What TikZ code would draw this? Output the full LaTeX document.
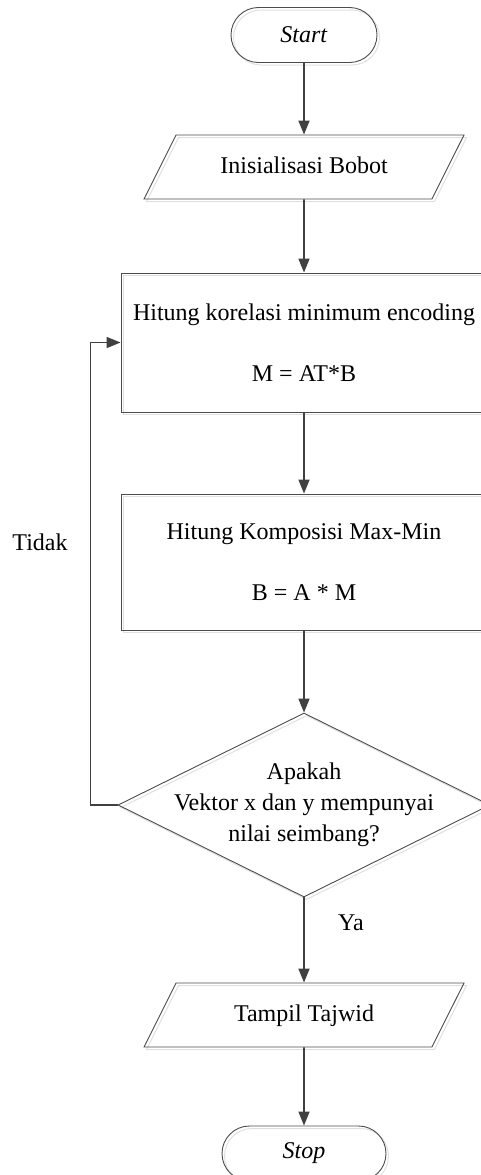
\documentclass[tikz,border=0pt]{standalone}
\usepackage{fontspec}
\setmainfont{Liberation Serif}
\usepackage{tikz}
\usetikzlibrary{shapes.geometric, arrows.meta, shadows}

\begin{document}
\begin{tikzpicture}[x=1pt, y=-1pt,
  every node/.style={font=\fontsize{24}{28}\selectfont, text=black},
  outline/.style={draw=black!70, line width=0.9pt,
    drop shadow={shadow xshift=2.5pt, shadow yshift=-2.5pt, opacity=1, fill=none, draw=black!12, line width=1pt}},
  terminal/.style={outline, rectangle, rounded corners=27.5pt, minimum height=55pt, inner sep=0pt},
  data/.style={outline, trapezium, trapezium left angle=63.4, trapezium right angle=116.6,
    trapezium stretches body, minimum width=320pt, text height=17pt, text depth=5pt,
    inner xsep=0pt, inner ysep=21pt},
  process/.style={outline, rectangle, minimum width=366pt, align=center, inner sep=0pt},
  decision/.style={outline, diamond, minimum width=372pt, minimum height=184pt, inner sep=0pt},
  flow/.style={draw=black!75, line width=1.6pt, -{Triangle[length=14pt, width=11pt]}}]
\useasboundingbox (0,0) rectangle (480,1175);

\node[terminal, minimum width=146pt] (start) at (304,35) {\textit{Start}};
\node[data] (init) at (304,167) {Inisialisasi Bobot};
\node[process, minimum height=139pt] (corr) at (304,342.5)
  {Hitung korelasi minimum encoding\\[33pt] M = AT*B};
\node[process, minimum height=136pt] (comp) at (304,562)
  {Hitung Komposisi Max-Min\\[33pt] B = A * M};
\node[decision] (check) at (304,805) {};
\node[align=center, font=\fontsize{24}{31}\selectfont] (checktxt) at (check)
  {Apakah\\Vektor x dan y mempunyai\\nilai seimbang?};
\node[data] (show) at (304,1015) {Tampil Tajwid};
\node[terminal, minimum width=164pt] (stop) at (304,1153.5) {\textit{Stop}};

\node (no) at (40,542) {Tidak};
\node (yes) at (351,923) {Ya};

\draw[flow] (start) -- (init);
\draw[flow] (init) -- (corr);
\draw[flow] (corr) -- (comp);
\draw[flow] (comp) -- (check);
\draw[flow] (check.west) -- ++(-27,0) |- (corr.west);
\draw[flow] (check) -- (show);
\draw[flow] (show) -- (stop);
\end{tikzpicture}
\end{document}
